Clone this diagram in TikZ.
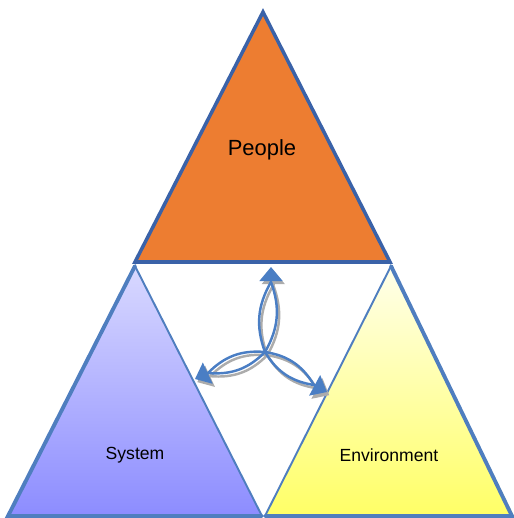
\documentclass[tikz,border=0pt]{standalone}
\usepackage{fontspec}
\setmainfont{Liberation Sans}
\usetikzlibrary{arrows.meta}
\definecolor{edgeblue}{HTML}{4F7EBF}
\definecolor{topedge}{HTML}{3A62A8}
\definecolor{peopleorange}{HTML}{ED7D31}
\definecolor{linkblue}{HTML}{4A7EC4}
\tikzstyle{every node}=[font=\fontsize{10}{12}\selectfont]
\tikzstyle{outer} = [draw=edgeblue, line width=2.2pt, line cap=round]
\tikzstyle{inner} = [draw=edgeblue, line width=1.1pt]
\tikzstyle{link} = [draw=linkblue, line width=1.4pt]
\tikzstyle{linkshadow} = [draw=gray!65, line width=1.4pt]
\tikzstyle{head} = [-{Triangle[length=8pt, width=13pt]}]

\begin{document}
\begin{tikzpicture}[x=0.02cm, y=-0.02cm]
        \useasboundingbox (0,0) rectangle (514,518);

        % people
        \draw [topedge, line width=2pt, fill=peopleorange, line join=miter] (263,12) -- (390,262) -- (135,262) -- cycle;
        \node (people) at (262,150) {\fontsize{12.5}{14}\selectfont People};

        % system
        \shade [top color=blue!15!white, bottom color=blue!45!white] (135,266) -- (262,516) -- (8,516) -- cycle;
        \draw [inner] (135,266) -- (262,516);
        \draw [outer] (262,516) -- (8,516) -- (135,266);
        \node (system) at (135,455) {System};

        % environment
        \shade [top color=yellow!8!white, bottom color=yellow!60!white] (391,266) -- (514,516) -- (265,516) -- cycle;
        \draw [inner] (391,266) -- (265,516);
        \draw [outer] (265,516) -- (512,516) -- (391,266);
        \node (environment) at (389,455) {Environment};

        % links
        \coordinate (hub) at (265,352);
        \coordinate (topbase) at (271,282);
        \coordinate (toptip) at (271,267);
        \coordinate (leftbase) at (208,373);
        \coordinate (lefttip) at (195,379);
        \coordinate (rightbase) at (314,385);
        \coordinate (righttip) at (327,392);

        \begin{scope}[transform canvas={xshift=1.3pt, yshift=-1.8pt}]
          \foreach \b/\t in {topbase/toptip, leftbase/lefttip, rightbase/righttip} {
            \draw [linkshadow] (hub) to[bend left=25] (\b);
            \draw [linkshadow] (hub) to[bend right=25] (\b);
            \draw [linkshadow, head, fill=gray!65] (\b) -- (\t);
          }
        \end{scope}
        \foreach \b/\t in {topbase/toptip, leftbase/lefttip, rightbase/righttip} {
          \draw [link] (hub) to[bend left=25] (\b);
          \draw [link] (hub) to[bend right=25] (\b);
          \draw [link, head, fill=linkblue] (\b) -- (\t);
        }
      \end{tikzpicture}
\end{document}
